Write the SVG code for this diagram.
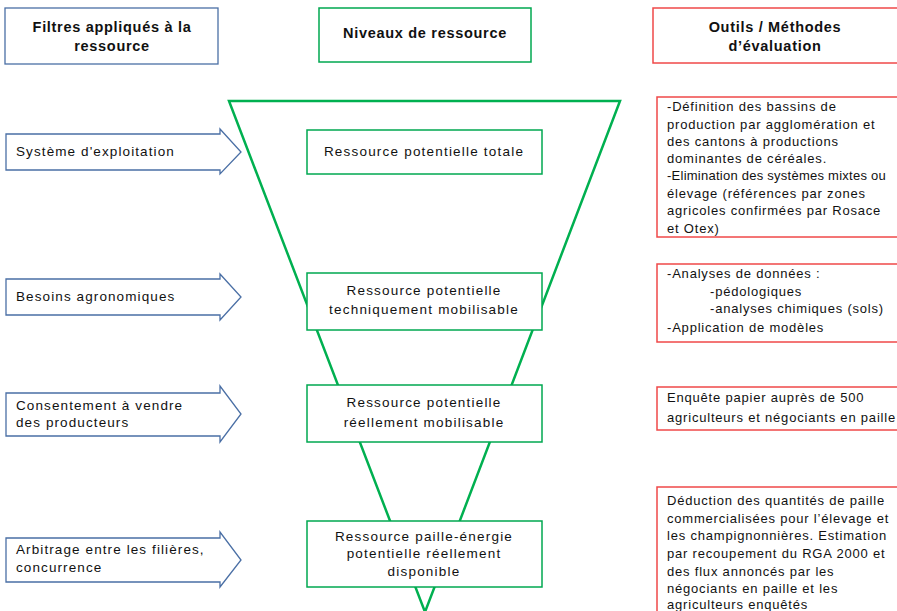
<svg xmlns="http://www.w3.org/2000/svg" width="897" height="611" viewBox="0 0 897 611">
<style>
text{font-family:"Liberation Sans",Arial,sans-serif;fill:#111;}
.h{font-size:14.5px;font-weight:bold;text-anchor:middle;letter-spacing:0.7px;}
.m{font-size:13.5px;text-anchor:middle;letter-spacing:1.2px;}
.l{font-size:13.5px;letter-spacing:1.1px;}
.r{font-size:13px;letter-spacing:0.8px;}
.t{letter-spacing:0.25px;}
.bl{fill:#fff;stroke:#4a6fa5;stroke-width:1.3;}
.gr{fill:#fff;stroke:#00a850;stroke-width:1.5;}
.rd{fill:#fff;stroke:#f04848;stroke-width:1.5;}
</style>
<rect width="897" height="611" fill="#fff"/>
<g id="header-filtres"><rect class="bl" x="5" y="8" width="213" height="56"/><text class="h" x="112" y="32">Filtres appliqués à la</text><text class="h" x="112" y="51">ressource</text></g>
<g id="header-niveaux"><rect class="gr" x="319" y="8" width="212" height="54"/><text class="h" x="425" y="38">Niveaux de ressource</text></g>
<g id="header-outils"><rect class="rd" x="653" y="8" width="250" height="55"/><text class="h" x="775" y="32">Outils / Méthodes</text><text class="h" x="775" y="51">d’évaluation</text></g>
<g id="connectors">
<polygon points="229,101 620,101 425,612" fill="#fff" stroke="#00b050" stroke-width="2.5"/>
</g>
<g id="arrow1"><polygon class="bl" points="6,134 220,134 220,129 241,152 220,174 220,170 6,170"/><text class="l" x="16" y="156">Système d'exploitation</text></g>
<g id="arrow2"><polygon class="bl" points="6,279 220,279 220,274 241,297 220,320 220,315 6,315"/><text class="l" x="16" y="301">Besoins agronomiques</text></g>
<g id="arrow3"><polygon class="bl" points="6,393 220,393 220,386 241,414 220,442 220,436 6,436"/><text class="l" x="16" y="410">Consentement à vendre</text><text class="l" x="16" y="427">des producteurs</text></g>
<g id="arrow4"><polygon class="bl" points="6,538 220,538 220,532 241,560 220,587 220,582 6,582"/><text class="l" x="16" y="554">Arbitrage entre les filières,</text><text class="l" x="16" y="572">concurrence</text></g>
<g id="niveau1"><rect class="gr" x="307" y="130" width="235" height="44"/><text class="m" x="424" y="156">Ressource potentielle totale</text></g>
<g id="niveau2"><rect class="gr" x="307" y="273" width="235" height="57"/><text class="m" x="424" y="295">Ressource potentielle</text><text class="m" x="424" y="314">techniquement mobilisable</text></g>
<g id="niveau3"><rect class="gr" x="307" y="385" width="235" height="57"/><text class="m" x="424" y="407">Ressource potentielle</text><text class="m" x="424" y="427">réellement mobilisable</text></g>
<g id="niveau4"><rect class="gr" x="307" y="521" width="235" height="66"/><text class="m" x="424" y="541">Ressource paille-énergie</text><text class="m" x="424" y="558">potentielle réellement</text><text class="m" x="424" y="576">disponible</text></g>
<g id="outil1"><rect class="rd" x="657" y="97" width="250" height="140"/>
<text class="r" x="667" y="111">-Définition des bassins de</text>
<text class="r" x="667" y="129">production par agglomération et</text>
<text class="r" x="667" y="146">des cantons à productions</text>
<text class="r" x="667" y="163">dominantes de céréales.</text>
<text class="r t" x="667" y="180">-Elimination des systèmes mixtes ou</text>
<text class="r" x="667" y="198">élevage (références par zones</text>
<text class="r" x="667" y="215">agricoles confirmées par Rosace</text>
<text class="r" x="667" y="233">et Otex)</text></g>
<g id="outil2"><rect class="rd" x="657" y="264" width="250" height="78"/>
<text class="r" x="667" y="278">-Analyses de données :</text>
<text class="r" x="710" y="296">-pédologiques</text>
<text class="r" x="710" y="313">-analyses chimiques (sols)</text>
<text class="r" x="667" y="332">-Application de modèles</text></g>
<g id="outil3"><rect class="rd" x="657" y="387" width="250" height="43"/>
<text class="r" x="667" y="402">Enquête papier auprès de 500</text>
<text class="r" x="667" y="422">agriculteurs et négociants en paille</text></g>
<g id="outil4"><rect class="rd" x="657" y="487" width="250" height="140"/>
<text class="r" x="667" y="505">Déduction des quantités de paille</text>
<text class="r" x="667" y="523">commercialisées pour l’élevage et</text>
<text class="r" x="667" y="540">les champignonnières. Estimation</text>
<text class="r" x="667" y="558">par recoupement  du RGA 2000 et</text>
<text class="r" x="667" y="576">des flux annoncés par les</text>
<text class="r" x="667" y="593">négociants en paille  et les</text>
<text class="r" x="667" y="609">agriculteurs enquêtés</text></g>
</svg>
